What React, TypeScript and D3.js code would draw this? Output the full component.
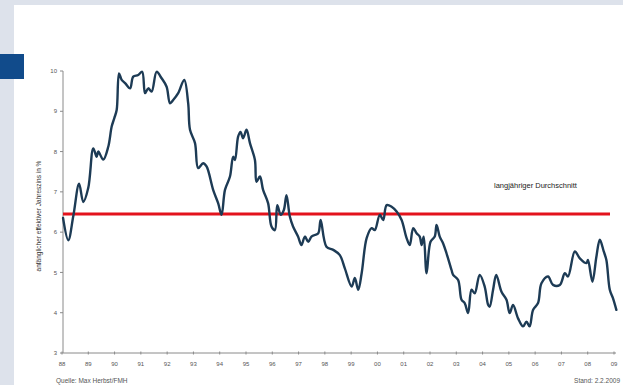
import React from "react";
import * as d3 from "d3";

const years = [
  1988.04, 1988.24, 1988.43, 1988.65, 1988.81, 1989.0, 1989.19, 1989.32, 1989.38, 1989.57,
  1989.76, 1989.89, 1989.99, 1990.08, 1990.17, 1990.27, 1990.4, 1990.59, 1990.71, 1990.9,
  1991.05, 1991.16, 1991.28, 1991.41, 1991.6, 1991.79, 1991.98, 1992.11, 1992.23, 1992.42,
  1992.65, 1992.8, 1992.87, 1993.06, 1993.18, 1993.37, 1993.5, 1993.75, 1993.94, 1994.07,
  1994.2, 1994.39, 1994.51, 1994.58, 1994.7, 1994.79, 1994.89, 1995.02, 1995.15, 1995.34,
  1995.4, 1995.53, 1995.65, 1995.84, 1995.97, 1996.1, 1996.19, 1996.32, 1996.44, 1996.54,
  1996.67, 1996.79, 1996.98, 1997.11, 1997.24, 1997.37, 1997.49, 1997.62, 1997.75, 1997.84,
  1998.06, 1998.32, 1998.57, 1998.76, 1999.02, 1999.14, 1999.27, 1999.4, 1999.59, 1999.78,
  1999.9, 2000.09, 2000.22, 2000.35, 2000.54, 2000.73, 2000.92, 2001.11, 2001.23, 2001.36,
  2001.49, 2001.61, 2001.68, 2001.76, 2001.87, 2002.02, 2002.18, 2002.25, 2002.37, 2002.5,
  2002.63, 2002.82, 2002.88, 2003.07, 2003.2, 2003.32, 2003.45, 2003.58, 2003.7, 2003.89,
  2004.08, 2004.21, 2004.27, 2004.4, 2004.52, 2004.72, 2004.91, 2005.03, 2005.16, 2005.35,
  2005.54, 2005.67, 2005.79, 2005.92, 2006.11, 2006.24, 2006.49, 2006.68, 2006.94, 2007.13,
  2007.25, 2007.51, 2007.7, 2007.95, 2008.01, 2008.18, 2008.33, 2008.46, 2008.61, 2008.71,
  2008.84, 2008.96, 2009.09,
];

const rates = [
  6.35, 5.8, 6.4, 7.2, 6.75, 7.1, 8.08, 7.87, 8.0, 7.8,
  8.12, 8.62, 8.83, 9.03, 9.94, 9.78, 9.7, 9.57, 9.86, 9.9,
  9.98, 9.45, 9.57, 9.49, 9.98, 9.82, 9.61, 9.2, 9.28, 9.45,
  9.78, 9.2, 8.54, 8.21, 7.59, 7.71, 7.63, 7.05, 6.72, 6.43,
  7.05, 7.38, 7.87, 7.79, 8.37, 8.49, 8.33, 8.54, 8.21, 7.79,
  7.25, 7.38, 7.05, 6.72, 6.14, 6.05, 6.67, 6.43, 6.55, 6.92,
  6.38, 6.14, 5.89, 5.68, 5.89, 5.76, 5.89, 5.93, 5.97, 6.3,
  5.64, 5.56, 5.43, 5.1, 4.65, 4.86, 4.57, 4.98, 5.85, 6.1,
  6.05, 6.43, 6.3, 6.67, 6.63, 6.51, 6.3, 5.85, 5.68, 6.1,
  5.97, 5.89, 5.68, 5.89, 4.98, 5.76, 5.89, 6.18, 5.89, 5.72,
  5.47, 5.06, 4.94, 4.81, 4.32, 4.24, 3.99, 4.57, 4.48, 4.94,
  4.65, 4.2, 4.15, 4.57, 4.94, 4.52, 4.32, 3.99, 4.19, 3.86,
  3.66, 3.78, 3.66, 4.07, 4.24, 4.73, 4.9, 4.69, 4.69, 4.98,
  4.9, 5.52, 5.35, 5.23, 5.31, 4.77, 5.39, 5.81, 5.52, 5.31,
  4.57, 4.36, 4.07,
];

const averageRate = 6.45;
const yTicks = [3, 4, 5, 6, 7, 8, 9, 10];
const xTickYears = d3.range(1988, 2010);
const yTitle = "anfänglicher effektiver Jahreszins in %";
const avgLabel = "langjähriger Durchschnitt";
const sourceLabel = "Quelle: Max Herbst/FMH";
const dateLabel = "Stand: 2.2.2009";

export default function App() {
  const W = 623;
  const H = 385;
  const x = d3.scaleLinear().domain([1988, 2009]).range([62, 614]);
  const y = d3.scaleLinear().domain([3, 10]).range([353, 71]);
  const pts: [number, number][] = years.map((yr, i) => [yr, rates[i]]);
  const line = d3
    .line<[number, number]>()
    .x((d) => x(d[0]))
    .y((d) => y(d[1]))
    .curve(d3.curveCatmullRom.alpha(0.5));
  const font = "'Liberation Sans', Arial, sans-serif";
  const axisColor = "#8a8a8a";
  const textColor = "#555";

  return (
    <svg
      width={W}
      height={H}
      style={{ position: "absolute", left: 0, top: 0 }}
      fontFamily={font}
    >
      <rect x={0} y={0} width={W} height={H} fill="#dde2eb" />
      <rect x={14} y={5} width={W - 14} height={H - 5} fill="#ffffff" />
      <rect x={0} y={54} width={24} height={25} fill="#114b8b" />

      {/* Y axis */}
      <line x1={63} x2={63} y1={y(10)} y2={y(3)} stroke={axisColor} strokeWidth={1} />
      {yTicks.map((t) => (
        <g key={t}>
          <line x1={60} x2={63} y1={y(t)} y2={y(t)} stroke={axisColor} />
          <text
            x={57}
            y={y(t)}
            dy="0.35em"
            fontSize={6}
            textAnchor="end"
            fill={textColor}
          >
            {t}
          </text>
        </g>
      ))}
      <text
        transform={`translate(39,${y(6.4)}) rotate(-90)`}
        fontSize={6.5}
        textAnchor="middle"
        dy="0.35em"
        fill="#333"
      >
        {yTitle}
      </text>

      {/* X axis */}
      <line x1={63} x2={616} y1={y(3)} y2={y(3)} stroke={axisColor} strokeWidth={1} />
      {xTickYears.map((yr) => (
        <g key={yr}>
          <line x1={x(yr)} x2={x(yr)} y1={y(3) - 1.5} y2={y(3) + 1.5} stroke={axisColor} />
          <text
            x={x(yr)}
            y={364}
            dy="0.35em"
            fontSize={6}
            textAnchor="middle"
            fill={textColor}
          >
            {String(yr % 100).padStart(2, "0")}
          </text>
        </g>
      ))}

      {/* Average line */}
      <line
        x1={63}
        x2={610}
        y1={y(averageRate)}
        y2={y(averageRate)}
        stroke="#e3131c"
        strokeWidth={3}
      />
      <text x={494} y={185} dy="0.35em" fontSize={7.5} fill="#222">
        {avgLabel}
      </text>

      {/* Data line */}
      <path
        d={line(pts) || ""}
        fill="none"
        stroke="#1d3b55"
        strokeWidth={2.4}
        strokeLinejoin="round"
        strokeLinecap="round"
      />

      <text x={56} y={381} dy="0.35em" fontSize={6.5} fill={textColor}>
        {sourceLabel}
      </text>
      <text x={620} y={381} dy="0.35em" fontSize={6.5} textAnchor="end" fill={textColor}>
        {dateLabel}
      </text>
    </svg>
  );
}
